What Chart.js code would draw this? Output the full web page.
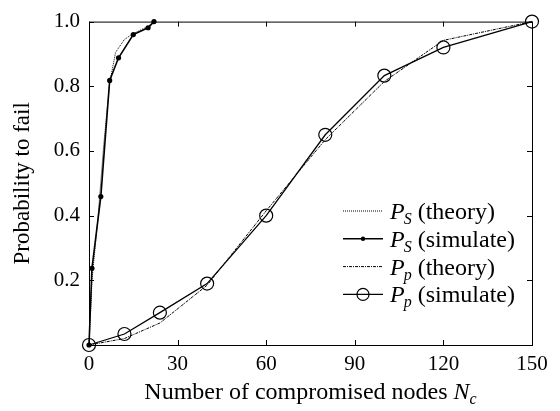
<!DOCTYPE html>
<html>
<head>
<meta charset="utf-8">
<script src="https://cdn.jsdelivr.net/npm/chart.js@4"></script>
<style>
  html, body { margin: 0; padding: 0; background: #fff; }
  #wrap { width: 560px; height: 411px; }
</style>
</head>
<body>
<div id="wrap"><canvas id="failChart" width="560" height="411"></canvas></div>
<script>
// данные
const psTheoryX = [0, 1, 3, 5, 7, 9, 12, 15, 20, 22];
const psTheoryY = [0, 0.2, 0.39, 0.62, 0.81, 0.905, 0.945, 0.963, 0.985, 1.0];

const psSimX = [0, 1, 4, 7, 10, 15, 20, 22];
const psSimY = [0, 0.237, 0.459, 0.818, 0.888, 0.96, 0.981, 1.0];

const ppTheoryX = [0, 12, 24, 40, 60, 80, 100, 120, 150];
const ppTheoryY = [0, 0.02, 0.068, 0.185, 0.415, 0.635, 0.815, 0.942, 1.0];

const ppSimX = [0, 12, 24, 40, 60, 80, 100, 120, 150];
const ppSimY = [0, 0.034, 0.1, 0.19, 0.4, 0.65, 0.833, 0.92, 1.0];

const xTicks = [0, 30, 60, 90, 120, 150];
const yTicks = [0.2, 0.4, 0.6, 0.8, 1.0];

const legendItems = [
    { sub: 'S', label: ' (theory)' },
    { sub: 'S', label: ' (simulate)' },
    { sub: 'p', label: ' (theory)' },
    { sub: 'p', label: ' (simulate)' }
];

const FONT = '"Liberation Serif", "Times New Roman", serif';

function toPoints(xs, ys) {
    return xs.map((x, i) => ({ x: x, y: ys[i] }));
}

// стили линий
const styles = [
    { borderWidth: 1, borderDash: [1, 1], pointRadius: 0 },
    { borderWidth: 1.6, borderDash: [], pointRadius: 2.6, fill: true },
    { borderWidth: 1, borderDash: [3, 1, 1, 1], pointRadius: 0 },
    { borderWidth: 1.3, borderDash: [], pointRadius: 6.5, fill: false }
];

const datasets = [
    toPoints(psTheoryX, psTheoryY),
    toPoints(psSimX, psSimY),
    toPoints(ppTheoryX, ppTheoryY),
    toPoints(ppSimX, ppSimY)
].map((pts, i) => ({
    label: legendItems[i].sub + legendItems[i].label,
    data: pts,
    showLine: true,
    clip: false,
    borderColor: '#000',
    borderWidth: styles[i].borderWidth,
    borderDash: styles[i].borderDash,
    pointRadius: styles[i].pointRadius,
    pointHoverRadius: styles[i].pointRadius,
    pointBorderColor: '#000',
    pointBorderWidth: styles[i].fill ? 0 : 1.2,
    pointBackgroundColor: styles[i].fill ? '#000' : 'rgba(0,0,0,0)',
    tension: 0
}));

// рамка, внутренние засечки, подпись оси X и легенда
const framePlugin = {
    id: 'frame',
    beforeDatasetsDraw(chart) {
        const ctx = chart.ctx;
        const a = chart.chartArea;
        const xs = chart.scales.x;
        const ys = chart.scales.y;
        const tl = 5;
        ctx.save();
        ctx.strokeStyle = '#000';
        ctx.lineWidth = 1;
        ctx.setLineDash([]);
        ctx.strokeRect(a.left + 0.5, a.top + 0.5, a.right - a.left, a.bottom - a.top);
        ctx.beginPath();
        xTicks.forEach(v => {
            const px = Math.round(xs.getPixelForValue(v)) + 0.5;
            ctx.moveTo(px, a.bottom); ctx.lineTo(px, a.bottom - tl);
            ctx.moveTo(px, a.top); ctx.lineTo(px, a.top + tl);
        });
        yTicks.forEach(v => {
            const py = Math.round(ys.getPixelForValue(v)) + 0.5;
            ctx.moveTo(a.left, py); ctx.lineTo(a.left + tl, py);
            ctx.moveTo(a.right, py); ctx.lineTo(a.right - tl, py);
        });
        ctx.stroke();
        ctx.restore();
    },
    afterDraw(chart) {
        const ctx = chart.ctx;
        const a = chart.chartArea;
        ctx.save();
        ctx.strokeStyle = '#000';
        // подпись оси X: Number of compromised nodes N_c
        ctx.fillStyle = '#000';
        ctx.textBaseline = 'alphabetic';
        const main = 'Number of compromised nodes ';
        ctx.font = '24px ' + FONT;
        const w1 = ctx.measureText(main).width;
        ctx.font = 'italic 24px ' + FONT;
        const w2 = ctx.measureText('N').width;
        ctx.font = 'italic 16px ' + FONT;
        const w3 = ctx.measureText('c').width;
        let x0 = (a.left + a.right) / 2 - (w1 + w2 + w3) / 2;
        const base = 399;
        ctx.font = '24px ' + FONT;
        ctx.fillText(main, x0, base);
        ctx.font = 'italic 24px ' + FONT;
        ctx.fillText('N', x0 + w1, base);
        ctx.font = 'italic 16px ' + FONT;
        ctx.fillText('c', x0 + w1 + w2, base + 5);

        // легенда
        const lx = 343, lw = 40, tx = 390;
        legendItems.forEach((item, i) => {
            const y = 211 + i * 27.8;
            const st = styles[i];
            ctx.lineWidth = st.borderWidth;
            ctx.setLineDash(st.borderDash);
            ctx.beginPath();
            ctx.moveTo(lx, y); ctx.lineTo(lx + lw, y);
            ctx.stroke();
            ctx.setLineDash([]);
            if (st.pointRadius > 0) {
                ctx.beginPath();
                if (st.fill) {
                    ctx.arc(lx + lw / 2, y, 2.2, 0, Math.PI * 2);
                    ctx.fill();
                } else {
                    ctx.lineWidth = 1.2;
                    ctx.arc(lx + lw / 2, y, 6, 0, Math.PI * 2);
                    ctx.stroke();
                }
            }
            const b = y + 8;
            ctx.font = 'italic 24px ' + FONT;
            ctx.fillText('P', tx, b);
            const wp = ctx.measureText('P').width;
            ctx.font = 'italic 16px ' + FONT;
            ctx.fillText(item.sub, tx + wp - 1, b + 5);
            const ws = ctx.measureText(item.sub).width;
            ctx.font = '24px ' + FONT;
            ctx.fillText(item.label, tx + wp - 1 + ws, b);
        });
        ctx.restore();
    }
};

const ctx = document.getElementById('failChart').getContext('2d');
new Chart(ctx, {
    type: 'scatter',
    data: { datasets: datasets },
    options: {
        responsive: false,
        animation: false,
        events: [],
        layout: { padding: { top: 16, right: 28, left: 0, bottom: 0 } },
        plugins: {
            legend: { display: false },
            tooltip: { enabled: false }
        },
        scales: {
            x: {
                type: 'linear',
                min: 0, max: 150,
                grid: { display: false, drawTicks: false },
                border: { display: false },
                ticks: {
                    stepSize: 30,
                    padding: 7,
                    color: '#000',
                    maxRotation: 0,
                    font: { family: FONT, size: 21 }
                },
                afterFit(scale) { scale.height = 66; }
            },
            y: {
                type: 'linear',
                min: 0, max: 1,
                grid: { display: false, drawTicks: false },
                border: { display: false },
                ticks: {
                    stepSize: 0.2,
                    padding: 9,
                    color: '#000',
                    font: { family: FONT, size: 21 },
                    callback: v => (v === 0 ? '' : v.toFixed(1))
                },
                title: {
                    display: true,
                    text: 'Probability to fail',
                    color: '#000',
                    font: { family: FONT, size: 23 },
                    padding: { top: 9, bottom: 0 }
                },
                afterFit(scale) { scale.width = 89; }
            }
        }
    },
    plugins: [framePlugin]
});
</script>
</body>
</html>
